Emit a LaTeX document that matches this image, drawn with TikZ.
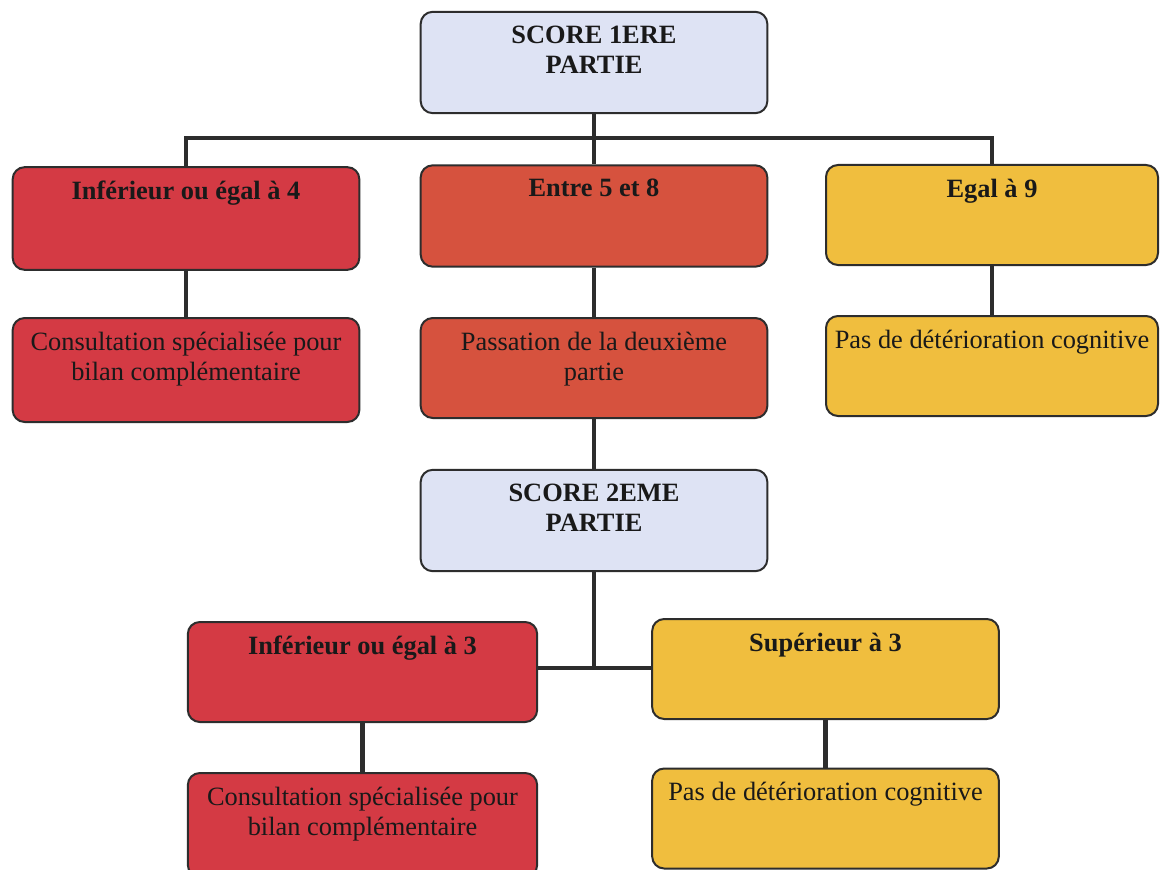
\documentclass[tikz,border=0pt]{standalone}
\usepackage{fontspec}
\setmainfont{Liberation Serif}
\definecolor{cred}{RGB}{212,58,68}
\definecolor{corange}{RGB}{214,82,62}
\definecolor{cyellow}{RGB}{240,190,62}
\definecolor{cblue}{RGB}{222,227,244}
\definecolor{cline}{RGB}{45,45,45}
\tikzset{
  box/.style={draw=cline, line width=1.5pt, rounded corners=9pt, minimum width=260pt, minimum height=76pt, inner sep=0pt},
  lab/.style={anchor=north, inner sep=0pt, align=center, font=\fontsize{19.8}{22.5}\selectfont, text=black!90, yshift=-11pt},
  blab/.style={lab, font=\fontsize{19.8}{22.5}\selectfont\bfseries},
  conn/.style={draw=cline, line width=3.6pt}
}
\begin{document}
\begin{tikzpicture}[x=0.75pt,y=-0.75pt]
\useasboundingbox (0,0) rectangle (1160,870);
\fill[white] (0,0) rectangle (1160,870);
\clip (0,0) rectangle (1160,870);
% top level
\node[box, fill=cblue, label={[blab]north:{SCORE 1ERE\\PARTIE}}] (S1) at (594,62.5) {};
\node[box, fill=cred, minimum height=77pt, label={[blab]north:{Inférieur ou égal à 4}}] (A1) at (186,218.5) {};
\node[box, fill=corange, label={[blab]north:{Entre 5 et 8}}] (B1) at (594,216) {};
\node[box, fill=cyellow, minimum width=249pt, minimum height=75pt, label={[blab]north:{Egal à 9}}] (C1) at (992,215) {};
\node[box, fill=cred, minimum height=78pt, label={[lab]north:{Consultation spécialisée pour\\bilan complémentaire}}] (A2) at (186,370) {};
\node[box, fill=corange, minimum height=75pt, label={[lab]north:{Passation de la deuxième\\partie}}] (B2) at (594,368) {};
\node[box, fill=cyellow, minimum width=249pt, minimum height=75pt, label={[lab]north:{Pas de détérioration cognitive}}] (C2) at (992,366) {};
% second part
\node[box, fill=cblue, label={[blab]north:{SCORE 2EME\\PARTIE}}] (S2) at (594,520.5) {};
\node[box, fill=cred, minimum width=262pt, minimum height=75pt, label={[blab]north:{Inférieur ou égal à 3}}] (D1) at (362.5,672) {};
\node[box, fill=cyellow, minimum height=75pt, label={[blab]north:{Supérieur à 3}}] (E1) at (825.5,669) {};
\node[box, fill=cred, minimum width=262pt, minimum height=78pt, label={[lab]north:{Consultation spécialisée pour\\bilan complémentaire}}] (D2) at (362.5,825) {};
\node[box, fill=cyellow, minimum height=75pt, label={[lab]north:{Pas de détérioration cognitive}}] (E2) at (825.5,818.5) {};
% connectors
\coordinate (j1) at (594,138);
\coordinate (j2) at (594,668);
\draw[conn] (S1.south) -- (j1);
\draw[conn] (A1.north) |- (j1) -| (C1.north);
\draw[conn] (j1) -- (B1.north);
\draw[conn] (A1.south) -- (A2.north);
\draw[conn] (B1.south) -- (B2.north);
\draw[conn] (C1.south) -- (C2.north);
\draw[conn] (B2.south) -- (S2.north);
\draw[conn] (S2.south) -- (j2);
\draw[conn] (D1.east |- j2) -- (E1.west |- j2);
\draw[conn] (D1.south) -- (D2.north);
\draw[conn] (E1.south) -- (E2.north);
\end{tikzpicture}
\end{document}
